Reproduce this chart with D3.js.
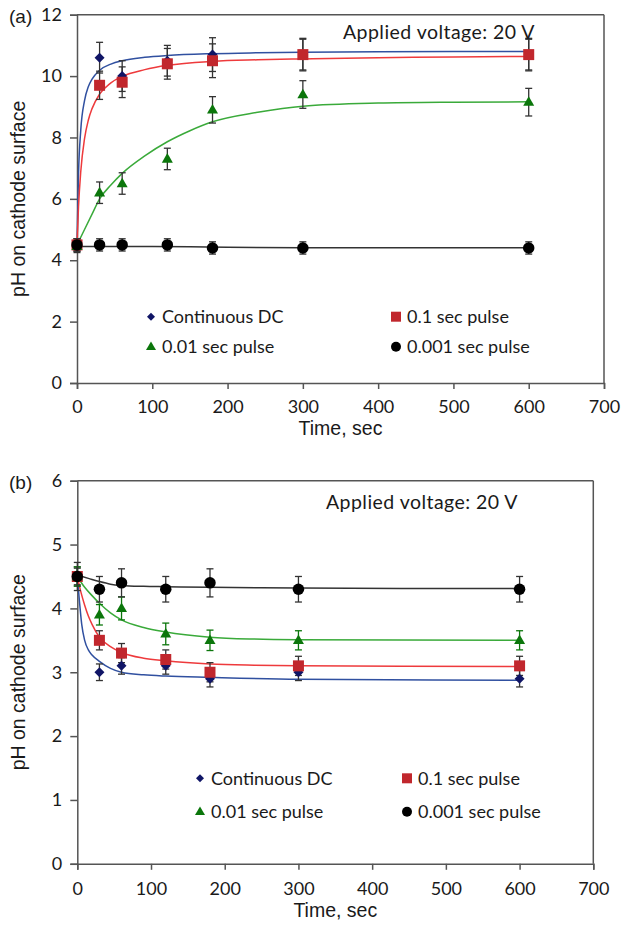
<!DOCTYPE html>
<html>
<head>
<meta charset="utf-8">
<script src="https://cdn.jsdelivr.net/npm/d3@7/dist/d3.min.js"></script>
<style>
  html, body { margin: 0; padding: 0; background: #fff; }
  svg { display: block; }
  .tick text { font-family: Lato, "Open Sans", sans-serif; font-size: 18px; fill: #1a1a1a; }
</style>
</head>
<body>
<svg id="chart" width="623" height="928"></svg>
<script>
// ---------------- DATA ----------------
const times = [0, 30, 60, 120, 180, 300, 600];
const seriesNames = ["Continuous DC", "0.1 sec pulse", "0.01 sec pulse", "0.001 sec pulse"];
const xTickValues = [0, 100, 200, 300, 400, 500, 600, 700];
const yTicksA = [0, 2, 4, 6, 8, 10, 12];
const yTicksB = [0, 1, 2, 3, 4, 5, 6];
const annotation = "Applied voltage: 20 V";

// Panel (a) measured points
const aDC       = [4.5, 10.6, 10.0, 10.5, 10.7, 10.7, 10.7];
const aDCErr    = [0.2, 0.5, 0.5, 0.5, 0.55, 0.5, 0.5];
const aP01      = [4.5, 9.7, 9.8, 10.4, 10.5, 10.7, 10.7];
const aP01Err   = [0.2, 0.46, 0.5, 0.5, 0.55, 0.53, 0.53];
const aP001     = [4.45, 6.2, 6.5, 7.3, 8.9, 9.4, 9.15];
const aP001Err  = [0.2, 0.35, 0.35, 0.35, 0.43, 0.45, 0.45];
const aP0001    = [4.5, 4.5, 4.5, 4.5, 4.4, 4.4, 4.4];
const aP0001Err = [0.2, 0.2, 0.2, 0.2, 0.2, 0.2, 0.2];

// Panel (a) fitted trend curves
const aFitDCT    = [0, 2, 5, 10, 15, 20, 30, 45, 60, 90, 120, 180, 240, 300, 400, 500, 600];
const aFitDC     = [4.5, 6.8, 8.24, 9.2, 9.65, 9.9, 10.19, 10.39, 10.5, 10.61, 10.67, 10.73, 10.76, 10.78, 10.79, 10.8, 10.8];
const aFitP01T   = [0, 2, 5, 10, 15, 20, 30, 45, 60, 90, 120, 180, 240, 300, 400, 500, 600];
const aFitP01    = [4.5, 5.74, 6.89, 7.96, 8.56, 8.94, 9.41, 9.78, 9.99, 10.21, 10.35, 10.48, 10.53, 10.56, 10.6, 10.62, 10.64];
const aFitP001T  = [0, 10, 20, 30, 45, 60, 90, 120, 150, 180, 240, 300, 400, 500, 600];
const aFitP001   = [4.5, 5.0, 5.5, 6.0, 6.45, 6.83, 7.4, 7.86, 8.22, 8.51, 8.82, 9.02, 9.12, 9.15, 9.16];
const aFitP0001T = [0, 100, 150, 200, 300, 600];
const aFitP0001  = [4.45, 4.45, 4.44, 4.42, 4.41, 4.41];

// Panel (b) measured points
const bDC       = [4.5, 3.0, 3.1, 3.1, 2.9, 3.0, 2.9];
const bDCErr    = [0.13, 0.13, 0.13, 0.13, 0.13, 0.13, 0.13];
const bP01      = [4.5, 3.5, 3.3, 3.2, 3.0, 3.1, 3.1];
const bP01Err   = [0.15, 0.15, 0.15, 0.15, 0.15, 0.15, 0.15];
const bP001     = [4.5, 3.9, 4.0, 3.6, 3.5, 3.5, 3.5];
const bP001Err  = [0.15, 0.16, 0.18, 0.17, 0.16, 0.15, 0.15];
const bP0001    = [4.5, 4.3, 4.4, 4.3, 4.4, 4.3, 4.3];
const bP0001Err = [0.22, 0.2, 0.22, 0.2, 0.22, 0.2, 0.2];

// Panel (b) fitted trend curves
const bFitDCT    = [0, 3, 6, 10, 15, 20, 30, 45, 60, 90, 120, 180, 300, 600];
const bFitDC     = [4.5, 4.1, 3.75, 3.5, 3.35, 3.27, 3.17, 3.06, 3.0, 2.96, 2.94, 2.92, 2.89, 2.875];
const bFitP01T   = [0, 5, 10, 15, 20, 30, 45, 60, 90, 120, 180, 240, 300, 600];
const bFitP01    = [4.5, 4.25, 4.05, 3.88, 3.75, 3.55, 3.4, 3.31, 3.22, 3.18, 3.13, 3.11, 3.1, 3.09];
const bFitP001T  = [0, 10, 20, 30, 45, 60, 90, 120, 180, 240, 300, 600];
const bFitP001   = [4.5, 4.33, 4.2, 4.08, 3.93, 3.82, 3.7, 3.63, 3.55, 3.52, 3.51, 3.5];
const bFitP0001T = [0, 15, 30, 45, 60, 90, 120, 180, 300, 600];
const bFitP0001  = [4.52, 4.47, 4.42, 4.38, 4.36, 4.345, 4.34, 4.33, 4.32, 4.31];

// ---------------- STYLE ----------------
const markerColors = ["#101566", "#c1272d", "#0b760b", "#000000"];
const lineColors   = ["#3050a0", "#ee3a3c", "#3aaa3a", "#333333"];
const shapes       = ["diamond", "square", "triangle", "circle"];
const textFont = "Lato, 'Open Sans', sans-serif";
const titleFont = "'Liberation Sans', Arial, sans-serif";

const svg = d3.select("#chart");
svg.append("rect").attr("width", 623).attr("height", 928).attr("fill", "#fff");

function symbolPath(shape, s) {
  if (shape === "diamond") return d3.symbol(d3.symbolSquare, s * s / 2)();
  if (shape === "square") return d3.symbol(d3.symbolSquare, s * s)();
  if (shape === "triangle") return d3.symbol(d3.symbolTriangle, Math.sqrt(3) / 4 * s * s)();
  return d3.symbol(d3.symbolCircle, Math.PI * s * s / 4)();
}
function symbolTransform(shape, x, y) {
  if (shape === "diamond") return `translate(${x},${y}) rotate(45)`;
  if (shape === "triangle") return `translate(${x},${y + 0.5})`;
  return `translate(${x},${y})`;
}

function drawPanel(cfg) {
  const x = d3.scaleLinear().domain([0, 700]).range([cfg.left, cfg.right]);
  const y = d3.scaleLinear().domain([0, cfg.yMax]).range([cfg.bottom, cfg.top]);
  const g = svg.append("g");

  // frame top/right
  g.append("line").attr("x1", cfg.left).attr("x2", cfg.right).attr("y1", cfg.top).attr("y2", cfg.top)
    .attr("stroke", "#555").attr("stroke-width", 1.5);
  g.append("line").attr("x1", cfg.right).attr("x2", cfg.right).attr("y1", cfg.top).attr("y2", cfg.bottom)
    .attr("stroke", "#555").attr("stroke-width", 1.5);

  // axes
  const xAxis = g.append("g").attr("transform", `translate(0,${cfg.bottom})`)
    .call(d3.axisBottom(x).tickValues(xTickValues).tickSize(6).tickPadding(cfg.xPad).tickFormat(d3.format("d")));
  const yAxis = g.append("g").attr("transform", `translate(${cfg.left},0)`)
    .call(d3.axisLeft(y).tickValues(cfg.yTicks).tickSize(7).tickPadding(8).tickFormat(d3.format("d")));
  [xAxis, yAxis].forEach(a => {
    a.select(".domain").attr("stroke", "#555").attr("stroke-width", 1.5);
    a.selectAll(".tick line").attr("stroke", "#555").attr("stroke-width", 1.5);
  });

  // fit lines
  const line = d3.line().x(d => x(d[0])).y(d => y(d[1])).curve(d3.curveMonotoneX);
  cfg.fits.forEach((f, i) => {
    const pts = f[0].map((t, k) => [t, f[1][k]]);
    g.append("path").attr("d", line(pts)).attr("fill", "none")
      .attr("stroke", lineColors[i]).attr("stroke-width", 1.5);
  });

  // error bars
  cfg.series.forEach((s, i) => {
    const col = (cfg.greenErr && i === 2) ? markerColors[2] : "#333";
    times.forEach((t, k) => {
      const cx = x(t), y1 = y(s[0][k] + s[1][k]), y2 = y(s[0][k] - s[1][k]);
      const eg = g.append("g").attr("stroke", col).attr("stroke-width", 1.3);
      eg.append("line").attr("x1", cx).attr("x2", cx).attr("y1", y1).attr("y2", y2);
      eg.append("line").attr("x1", cx - 3.5).attr("x2", cx + 3.5).attr("y1", y1).attr("y2", y1);
      eg.append("line").attr("x1", cx - 3.5).attr("x2", cx + 3.5).attr("y1", y2).attr("y2", y2);
    });
  });

  // markers
  const sizes = [10, 11, 11, 11.5];
  cfg.series.forEach((s, i) => {
    times.forEach((t, k) => {
      g.append("path").attr("d", symbolPath(shapes[i], sizes[i]))
        .attr("transform", symbolTransform(shapes[i], x(t), y(s[0][k])))
        .attr("fill", markerColors[i]);
    });
  });

  // legend
  const legSizes = [8, 10, 10, 10];
  seriesNames.forEach((name, i) => {
    const col = i % 2, row = Math.floor(i / 2);
    const mx = cfg.legX[col], my = cfg.legY[row];
    g.append("path").attr("d", symbolPath(shapes[i], legSizes[i]))
      .attr("transform", symbolTransform(shapes[i], mx, my)).attr("fill", markerColors[i]);
    g.append("text").attr("x", mx + 11).attr("y", my + 6.5).text(name)
      .attr("font-family", textFont).attr("font-size", 18).attr("fill", "#1a1a1a");
  });

  // annotation
  g.append("text").attr("x", cfg.annX).attr("y", cfg.annY).text(annotation)
    .attr("font-family", textFont).attr("font-size", 19.5).attr("letter-spacing", 0.45)
    .attr("fill", "#1a1a1a");

  // panel label
  g.append("text").attr("x", 9).attr("y", cfg.top + 8).text(cfg.label)
    .attr("font-family", titleFont).attr("font-size", 19).attr("fill", "#1a1a1a");

  // axis titles
  g.append("text").attr("x", (cfg.left + cfg.right) / 2).attr("y", cfg.xTitleY).attr("text-anchor", "middle")
    .text("Time, sec").attr("font-family", titleFont).attr("font-size", 19.5).attr("fill", "#1a1a1a");
  g.append("text").attr("transform", `translate(24.5,${(cfg.top + cfg.bottom) / 2}) rotate(-90)`)
    .attr("text-anchor", "middle").text("pH on cathode surface")
    .attr("font-family", titleFont).attr("font-size", 19.5).attr("fill", "#1a1a1a");
}

drawPanel({
  label: "(a)", left: 77, right: 604, top: 14.7, bottom: 383, yMax: 12, yTicks: yTicksA, xPad: 11,
  fits: [[aFitDCT, aFitDC], [aFitP01T, aFitP01], [aFitP001T, aFitP001], [aFitP0001T, aFitP0001]],
  series: [[aDC, aDCErr], [aP01, aP01Err], [aP001, aP001Err], [aP0001, aP0001Err]],
  greenErr: false, legX: [151, 396], legY: [316.7, 346.7], annX: 343, annY: 39, xTitleY: 435
});
drawPanel({
  label: "(b)", left: 77.3, right: 593.3, top: 480.7, bottom: 863.8, yMax: 6, yTicks: yTicksB, xPad: 12,
  fits: [[bFitDCT, bFitDC], [bFitP01T, bFitP01], [bFitP001T, bFitP001], [bFitP0001T, bFitP0001]],
  series: [[bDC, bDCErr], [bP01, bP01Err], [bP001, bP001Err], [bP0001, bP0001Err]],
  greenErr: true, legX: [200, 407], legY: [778.3, 811.7], annX: 326, annY: 509, xTitleY: 917
});
</script>
</body>
</html>
